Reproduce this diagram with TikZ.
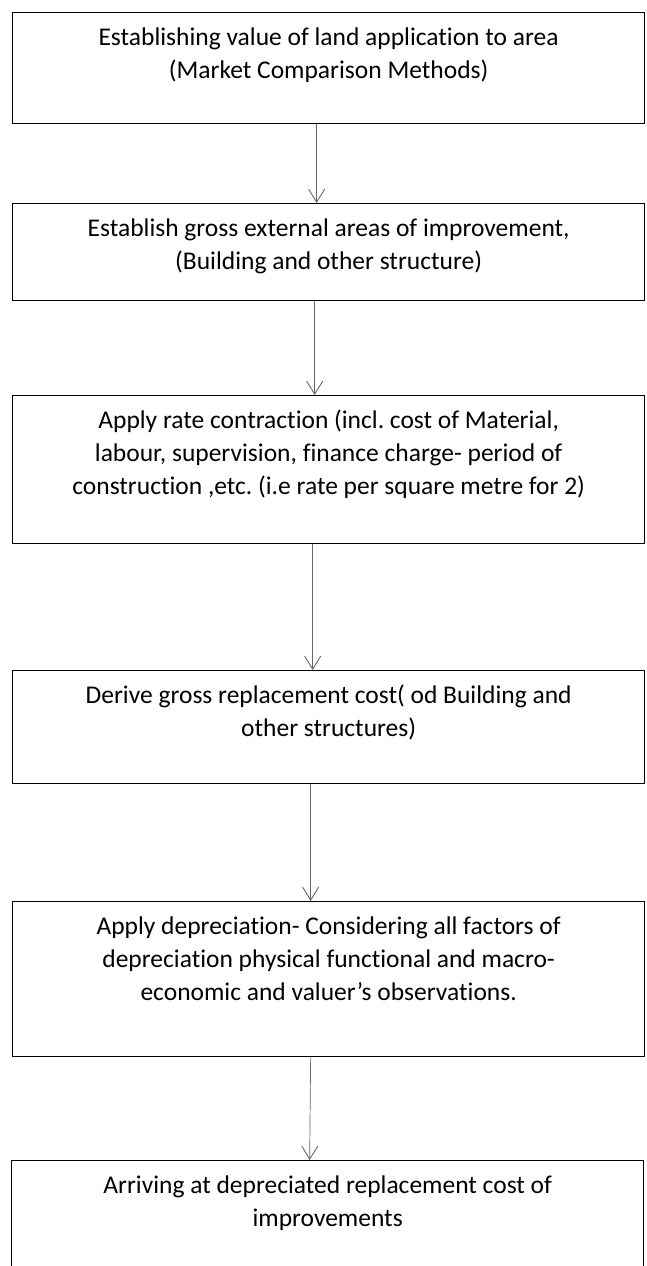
\documentclass[tikz,border=0pt]{standalone}
\usepackage{fontspec}
\setmainfont[Ligatures=NoCommon]{Carlito}
\usetikzlibrary{arrows.meta}
\frenchspacing
\newcommand\boxtxt[3]{\parbox[c][#1pt][t]{#2pt}{\centering\fontsize{25.5}{33}\selectfont\vspace*{10pt}\strut #3\par}}
\begin{document}
\begin{tikzpicture}[x=1pt,y=-1pt,
  stepbox/.style={draw=black, line width=1.3pt, rectangle, inner sep=0pt, anchor=north west},
  flow/.style={draw=black!60, line width=0.7pt, -{Straight Barb[length=13pt,width=16pt,line width=0.9pt]}},
]
\useasboundingbox (0,0) rectangle (646,1266);
\node[stepbox] (b1) at (12,12) {\boxtxt{111}{632}{Establishing value of land application to area\\(Market Comparison Methods)}};
\node[stepbox] (b2) at (12,203) {\boxtxt{97}{632}{Establish gross external areas of improvement,\\(Building and other structure)}};
\node[stepbox] (b3) at (12,395) {\boxtxt{148}{632}{Apply rate contraction (incl. cost of Material,\\labour, supervision, finance charge- period of\\construction ,etc. (i.e rate per square metre for 2)}};
\node[stepbox] (b4) at (12,670) {\boxtxt{113}{632}{Derive gross replacement cost( od Building and\\other structures)}};
\node[stepbox] (b5) at (12,901) {\boxtxt{155}{632}{Apply depreciation- Considering all factors of\\depreciation physical functional and macro-\\economic and valuer’s observations.}};
\node[stepbox] (b6) at (11,1160) {\boxtxt{130}{632}{Arriving at depreciated replacement cost of\\improvements}};
\draw[flow] ([xshift=-12pt]b1.south) -- ([xshift=-12pt]b2.north);
\draw[flow] ([xshift=-14pt]b2.south) -- ([xshift=-14pt]b3.north);
\draw[flow] ([xshift=-16pt]b3.south) -- ([xshift=-16pt]b4.north);
\draw[flow] ([xshift=-18pt]b4.south) -- ([xshift=-18pt]b5.north);
\draw[flow] ([xshift=-18pt]b5.south) -- ([xshift=-18pt]b6.north);
\end{tikzpicture}
\end{document}
